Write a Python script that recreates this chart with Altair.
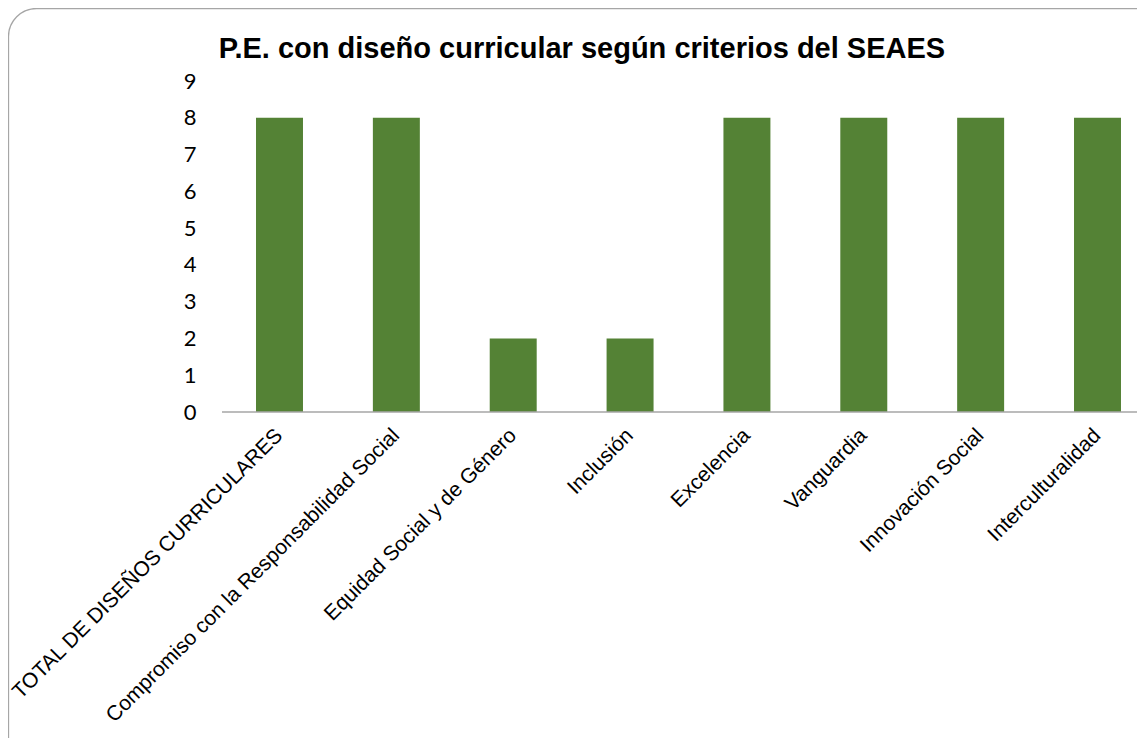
import altair as alt
import pandas as pd

categorias = [
    "TOTAL DE DISEÑOS CURRICULARES",
    "Compromiso con la Responsabilidad Social",
    "Equidad Social y de Género",
    "Inclusión",
    "Excelencia",
    "Vanguardia",
    "Innovación Social",
    "Interculturalidad",
]
valores = [8, 8, 2, 2, 8, 8, 8, 8]
y_ticks = [0, 1, 2, 3, 4, 5, 6, 7, 8, 9]
titulo = "P.E. con diseño curricular según criterios del SEAES"

W = 897
H = 331
TOTAL_H = 730

df = pd.DataFrame({"categoria": categorias, "valor": valores})
one = pd.DataFrame({"t": [titulo]})

border = alt.Chart(one).mark_rect(
    filled=False, stroke="#a6a6a6", strokeWidth=1.3, cornerRadius=28
).encode(
    x=alt.value(-231.5), x2=alt.value(W + 60),
    y=alt.value(-72.5), y2=alt.value(H + 400),
)

bars = alt.Chart(df).mark_bar(color="#548235").encode(
    x=alt.X(
        "categoria:N", sort=categorias, title=None,
        scale=alt.Scale(paddingInner=0.598, paddingOuter=0.137),
        axis=alt.Axis(
            labelAngle=-45, labelAlign="right", labelBaseline="middle",
            labelFont="Liberation Sans", labelFontSize=21, labelColor="#000000",
            labelPadding=20, labelLimit=600, labelOverlap=False,
            ticks=False, tickSize=0, domain=False, grid=False,
        ),
    ),
    y=alt.Y(
        "valor:Q", title=None,
        scale=alt.Scale(domain=[0, 9], nice=False),
        axis=alt.Axis(
            values=y_ticks, labelFont="Lato", labelFontSize=22,
            labelColor="#000000", labelPadding=44,
            ticks=False, tickSize=0, domain=False, grid=False,
        ),
    ),
)

baseline = alt.Chart(one).mark_rule(color="#a6a6a6", strokeWidth=1.3).encode(
    x=alt.value(-18), x2=alt.value(W), y=alt.value(H)
)

title = alt.Chart(one).mark_text(
    font="Liberation Sans", fontSize=29, fontWeight="bold",
    align="center", baseline="alphabetic", color="#000000",
).encode(x=alt.value(342), y=alt.value(-22.7), text="t:N")

chart = alt.layer(border, bars, baseline, title).properties(
    width=W, height=H,
    autosize=alt.AutoSizeParams(type="none"),
    padding={"left": 232, "top": 73, "right": 0, "bottom": TOTAL_H - 73 - H},
).configure_view(stroke=None)

chart.save("out.html", embed_options={"renderer": "svg", "actions": False})
